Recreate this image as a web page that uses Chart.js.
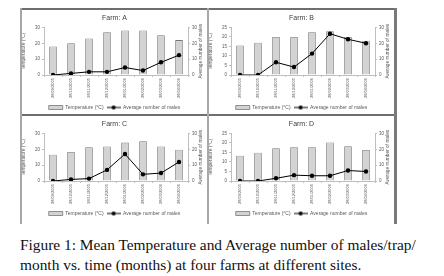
<!DOCTYPE html>
<html>
<head>
<meta charset="utf-8">
<script src="https://cdn.jsdelivr.net/npm/chart.js@4"></script>
<style>
    body { margin: 0; background: #fff; width: 444px; height: 276px; position: relative; overflow: hidden; }
    .panel { position: absolute; width: 187px; height: 106px; }
    .rule { position: absolute; }
    #caption { position: absolute; left: 20px; top: 235px; font-family: 'Liberation Serif'; font-size: 15.4px; line-height: 20px; color: #111; white-space: nowrap; }
</style>
</head>
<body>
<div class="panel" style="left:21px;top:9px"><canvas id="farmA" width="187" height="106"></canvas></div>
<div class="panel" style="left:208px;top:9px"><canvas id="farmB" width="187" height="106"></canvas></div>
<div class="panel" style="left:21px;top:115px"><canvas id="farmC" width="187" height="106"></canvas></div>
<div class="panel" style="left:208px;top:115px"><canvas id="farmD" width="187" height="106"></canvas></div>

<div class="rule" style="left:20px;top:8px;width:377px;height:2px;background:#6e6e6e"></div>
<div class="rule" style="left:20px;top:114px;width:377px;height:2px;background:#6e6e6e"></div>
<div class="rule" style="left:20px;top:8px;width:2px;height:216px;background:#a8a8a8"></div>
<div class="rule" style="left:207px;top:8px;width:2px;height:216px;background:#a8a8a8"></div>
<div class="rule" style="left:394px;top:8px;width:3px;height:216px;background:#7a7a7a"></div>

<div id="caption">Figure 1: Mean Temperature and Average number of males/trap/<br>month vs. time (months) at four farms at different sites.</div>

<script>
// months on the x axis (same for every farm)
const months = ['28/09/2005', '28/10/2005', '28/11/2005', '28/12/2005', '28/01/2006', '28/02/2006', '28/03/2006', '28/04/2006'];

// mean temperature (°C), left axis
const tempA = [18, 20, 23, 27, 28, 28, 25, 22];
const tempB = [15.5, 17, 20, 20, 22.5, 23, 20, 18];
const tempC = [16.5, 18.3, 21.2, 21.8, 24.2, 25, 21.8, 19.7];
const tempD = [13.3, 14.8, 17.2, 17.7, 17.7, 20.2, 18.2, 16.3];

// average number of males, right axis
const malesA = [0, 1, 2, 2, 4.7, 2.8, 8, 12.5];
const malesB = [0, 0, 8, 5, 13.5, 26, 22.5, 20];
const malesC = [0, 1, 1.5, 7, 17, 4.2, 5, 12];
const malesD = [0, 0, 1.7, 3.7, 3.3, 3.3, 6.6, 6];

// axis tops: left (temperature) per farm, right (males) shared
const tempMax = [30, 25, 30, 25];
const malesMax = 30;

const FONT = 'Liberation Sans';
const TXT = '#595959';
const AXIS = '#bfbfbf';

// little legend icon for the line series: line with a dot
const lineIcon = document.createElement('canvas');
lineIcon.width = 14; lineIcon.height = 6;
(function () {
    const c = lineIcon.getContext('2d');
    c.strokeStyle = '#000'; c.lineWidth = 1;
    c.beginPath(); c.moveTo(0, 3); c.lineTo(14, 3); c.stroke();
    c.fillStyle = '#000';
    c.beginPath(); c.arc(7, 3, 2, 0, Math.PI * 2); c.fill();
})();

// right axis title reads bottom-to-top like in the original
const rightTitle = {
    id: 'rightTitle',
    afterDraw(chart) {
        const s = chart.scales.y1;
        const ctx = chart.ctx;
        ctx.save();
        ctx.translate(s.right - 7, (s.top + s.bottom) / 2);
        ctx.rotate(-Math.PI / 2);
        ctx.font = '4.8px ' + FONT;
        ctx.fillStyle = TXT;
        ctx.textAlign = 'center';
        ctx.textBaseline = 'middle';
        ctx.fillText('Average number of males', 0, 0);
        ctx.restore();
    }
};

function makeChart(id, name, temps, males, tMax) {
    new Chart(document.getElementById(id), {
        type: 'bar',
        data: {
            labels: months,
            datasets: [{
                type: 'line',
                label: 'Average number of males',
                data: males,
                yAxisID: 'y1',
                borderColor: '#000',
                borderWidth: 1,
                pointRadius: 2.2,
                pointBackgroundColor: '#000',
                pointBorderWidth: 0,
                order: 0
            }, {
                label: 'Temperature (°C)',
                data: temps,
                yAxisID: 'y',
                backgroundColor: '#d3d3d3',
                borderColor: '#777',
                borderWidth: 0.8,
                categoryPercentage: 0.8,
                barPercentage: 0.53,
                order: 1
            }]
        },
        options: {
            responsive: false,
            animation: false,
            plugins: {
                title: {
                    display: true, text: 'Farm: ' + name, color: '#404040',
                    font: { family: FONT, size: 7, weight: 'normal' },
                    padding: { top: 5, bottom: 5 }
                },
                legend: {
                    position: 'bottom',
                    reverse: true,
                    maxHeight: 13,
                    labels: {
                        font: { family: FONT, size: 5 }, color: TXT,
                        usePointStyle: true, pointStyleWidth: 14, boxHeight: 4, padding: 3,
                        generateLabels: function (chart) {
                            const items = Chart.defaults.plugins.legend.labels.generateLabels(chart);
                            items.forEach(function (it) {
                                if (it.datasetIndex === 0) it.pointStyle = lineIcon;
                                else it.pointStyle = 'rect';
                            });
                            return items;
                        }
                    }
                },
                tooltip: { enabled: false }
            },
            scales: {
                x: {
                    grid: { display: true, drawOnChartArea: false, tickLength: 2, color: AXIS },
                    border: { color: AXIS },
                    ticks: { font: { family: FONT, size: 4 }, color: TXT, minRotation: 90, maxRotation: 90, padding: 1, autoSkip: false },
                    afterFit: function (s) { s.height = 27; }
                },
                y: {
                    position: 'left', min: 0, max: tMax,
                    grid: { drawOnChartArea: false, tickLength: 2, color: AXIS },
                    border: { color: AXIS },
                    ticks: { stepSize: 5, font: { family: FONT, size: 4.5 }, color: TXT, padding: 2 },
                    title: { display: true, text: 'Temperature (°C)', color: TXT, font: { family: FONT, size: 4.8 }, padding: 0 },
                    afterFit: function (s) { s.width = 23; }
                },
                y1: {
                    position: 'right', min: 0, max: malesMax,
                    grid: { drawOnChartArea: false, tickLength: 2, color: AXIS },
                    border: { color: AXIS },
                    ticks: { stepSize: 5, font: { family: FONT, size: 4.5 }, color: TXT, padding: 2 },
                    afterFit: function (s) { s.width = 20; }
                }
            }
        },
        plugins: [rightTitle]
    });
}

makeChart('farmA', 'A', tempA, malesA, tempMax[0]);
makeChart('farmB', 'B', tempB, malesB, tempMax[1]);
makeChart('farmC', 'C', tempC, malesC, tempMax[2]);
makeChart('farmD', 'D', tempD, malesD, tempMax[3]);
</script>
</body>
</html>
